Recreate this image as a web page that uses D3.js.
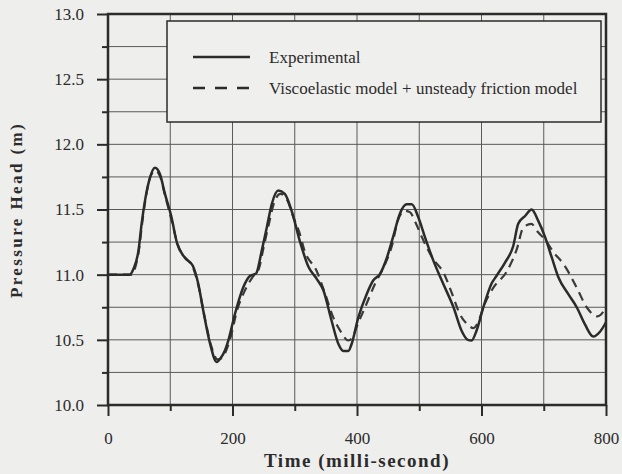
<!DOCTYPE html>
<html>
<head>
<meta charset="utf-8">
<script src="https://cdn.jsdelivr.net/npm/d3@7"></script>
<style>
  html, body { margin: 0; padding: 0; background: #eeeeec; }
  svg { display: block; font-family: "Liberation Serif", "Times New Roman", serif; }
  svg text { font-family: "Liberation Serif", "Times New Roman", serif; }
</style>
</head>
<body>
<svg id="chart" width="622" height="474"></svg>
<script>
// time in milli-second, pressure head in m
const expTime = [0, 20, 35, 41, 49, 54, 59.5, 66, 75.5, 83.5, 91.5, 102, 111, 123.5, 136, 145, 153, 164, 174.5, 181,
  188, 193, 204, 217, 228, 238, 247, 255, 263, 273.5, 284, 295, 308, 322, 335, 346, 359, 370, 378, 386,
  391.5, 402, 415.5, 426, 437, 448, 458, 469, 480, 488, 498.5, 509, 522.5, 538.5, 555, 568, 578, 584, 592, 603,
  616, 624, 638, 651, 659, 670, 680.5, 691, 702, 713, 723.5, 739.5, 753, 766, 779.5, 790, 800];
const expHead = [11.0, 11.0, 11.0, 11.045, 11.185, 11.39, 11.57, 11.72, 11.82, 11.77, 11.62, 11.44, 11.24, 11.13, 11.07, 10.93, 10.725, 10.47, 10.33, 10.36,
  10.42, 10.49, 10.70, 10.90, 10.99, 11.01, 11.185, 11.36, 11.54, 11.645, 11.62, 11.49, 11.26, 11.06, 10.97, 10.88, 10.65, 10.47, 10.415, 10.415,
  10.47, 10.67, 10.85, 10.955, 11.006, 11.13, 11.29, 11.47, 11.54, 11.54, 11.44, 11.29, 11.11, 10.93, 10.75, 10.57, 10.5, 10.495, 10.57, 10.75,
  10.93, 10.99, 11.095, 11.22, 11.39, 11.45, 11.50, 11.415, 11.29, 11.13, 10.98, 10.85, 10.75, 10.62, 10.525, 10.56, 10.635];

const modelTime = [0, 38, 44, 50, 55, 61, 68, 76, 84, 92, 102, 112, 124, 136, 146, 155, 166, 176, 183, 190,
  197, 207, 220, 232, 242, 250, 258, 266, 277, 287, 298, 307, 316, 335, 349, 362, 373, 386, 393, 399.5,
  413, 429, 445, 456, 466, 477, 485, 494, 504, 521, 540, 553, 565, 577, 587, 595, 603, 619, 640, 657,
  667, 680, 691, 702, 716, 732, 753, 769, 786, 796, 800];
const modelHead = [11.0, 11.0, 11.06, 11.2, 11.4, 11.6, 11.75, 11.80, 11.75, 11.6, 11.42, 11.23, 11.13, 11.06, 10.9, 10.68, 10.45, 10.35, 10.36, 10.42,
  10.52, 10.72, 10.88, 10.98, 11.04, 11.21, 11.38, 11.54, 11.62, 11.58, 11.44, 11.33, 11.18, 11.03, 10.85, 10.67, 10.57, 10.495, 10.52, 10.60,
  10.75, 10.93, 11.08, 11.22, 11.42, 11.49, 11.48, 11.40, 11.29, 11.13, 11.006, 10.85, 10.70, 10.62, 10.59, 10.64, 10.75, 10.90, 11.02, 11.2,
  11.36, 11.39, 11.325, 11.27, 11.17, 11.08, 10.9, 10.75, 10.68, 10.72, 10.76];

const xMajor = [0, 200, 400, 600, 800];
const xMinor = [100, 300, 500, 700];
const yMajor = [10.0, 10.5, 11.0, 11.5, 12.0, 12.5, 13.0];
const yMinor = [10.25, 10.75, 11.25, 11.75, 12.25, 12.75];

const legendLabels = ['Experimental', 'Viscoelastic model + unsteady friction model'];

const ink = '#2b2b2b';
const serif = '"Liberation Serif", "Times New Roman", serif';
const svg = d3.select('#chart');

const x = d3.scaleLinear().domain([0, 800]).range([108, 606]);
const y = d3.scaleLinear().domain([10, 13]).range([405, 14]);

// grid
const grid = svg.append('g').attr('class', 'grid');
grid.selectAll('.vgrid')
  .data(xMajor.concat(xMinor))
  .enter().append('line')
  .attr('x1', d => x(d)).attr('x2', d => x(d))
  .attr('y1', y(10)).attr('y2', y(13))
  .attr('stroke', '#5a5a5a').attr('stroke-width', 1);
grid.selectAll('.hgrid')
  .data(yMajor.concat(yMinor))
  .enter().append('line')
  .attr('x1', x(0)).attr('x2', x(800))
  .attr('y1', d => y(d)).attr('y2', d => y(d))
  .attr('stroke', '#5a5a5a').attr('stroke-width', 1);

// axes
const yAxis = svg.append('g')
  .attr('transform', `translate(${x(0)},0)`)
  .call(d3.axisLeft(y).tickValues(yMajor).tickFormat(d3.format('.1f')).tickSize(11).tickPadding(13));
svg.append('g')
  .attr('transform', `translate(${x(0)},0)`)
  .call(d3.axisLeft(y).tickValues(yMinor).tickFormat('').tickSize(6));

const xAxis = svg.append('g')
  .attr('transform', `translate(0,${y(10)})`)
  .call(d3.axisBottom(x).tickValues(xMajor).tickSize(11).tickPadding(16));
svg.append('g')
  .attr('transform', `translate(0,${y(10)})`)
  .call(d3.axisBottom(x).tickValues(xMinor).tickFormat('').tickSize(6));

// let the axes use the serif font
[yAxis, xAxis].forEach(a => a.attr('font-family', serif).attr('font-size', 17));
svg.selectAll('.domain').remove();
svg.selectAll('.tick line').attr('stroke', ink).attr('stroke-width', 2);
svg.selectAll('.tick text')
  .attr('font-family', serif).attr('font-size', 17).attr('fill', ink);

// frame
svg.append('rect')
  .attr('x', x(0)).attr('y', y(13))
  .attr('width', x(800) - x(0)).attr('height', y(10) - y(13))
  .attr('fill', 'none').attr('stroke', ink).attr('stroke-width', 2.5);

// legend box
const legend = svg.append('g');
legend.append('rect')
  .attr('x', 167).attr('y', 21).attr('width', 434).attr('height', 101)
  .attr('fill', '#efefed').attr('stroke', ink).attr('stroke-width', 1.5);
legendLabels.forEach((label, i) => {
  const ly = 57 + i * 31;
  legend.append('line')
    .attr('x1', 193).attr('x2', 250).attr('y1', ly).attr('y2', ly)
    .attr('stroke', ink).attr('stroke-width', 2.5)
    .attr('stroke-dasharray', i === 1 ? '12,10' : null);
  legend.append('text')
    .attr('x', 269).attr('y', ly).attr('dy', '0.35em')
    .attr('font-family', serif).attr('font-size', 17).attr('fill', ink)
    .text(label);
});

// curves
const line = d3.line()
  .x(d => x(d[0]))
  .y(d => y(d[1]))
  .curve(d3.curveMonotoneX);

svg.append('path')
  .datum(modelTime.map((t, i) => [t, modelHead[i]]))
  .attr('d', line)
  .attr('fill', 'none').attr('stroke', '#3a3a3a').attr('stroke-width', 2.2)
  .attr('stroke-dasharray', '9,6');

svg.append('path')
  .datum(expTime.map((t, i) => [t, expHead[i]]))
  .attr('d', line)
  .attr('fill', 'none').attr('stroke', ink).attr('stroke-width', 2.5);

// axis titles
svg.append('text')
  .attr('x', 357).attr('y', 467)
  .attr('text-anchor', 'middle')
  .attr('font-family', serif).attr('font-size', 19).attr('font-weight', 'bold').attr('fill', ink)
  .attr('letter-spacing', 1.5)
  .text('Time (milli-second)');

svg.append('text')
  .attr('transform', 'translate(22,210) rotate(-90)')
  .attr('text-anchor', 'middle')
  .attr('font-family', serif).attr('font-size', 17).attr('font-weight', 'bold').attr('fill', ink)
  .attr('letter-spacing', 2.4)
  .text('Pressure Head (m)');
</script>
</body>
</html>
